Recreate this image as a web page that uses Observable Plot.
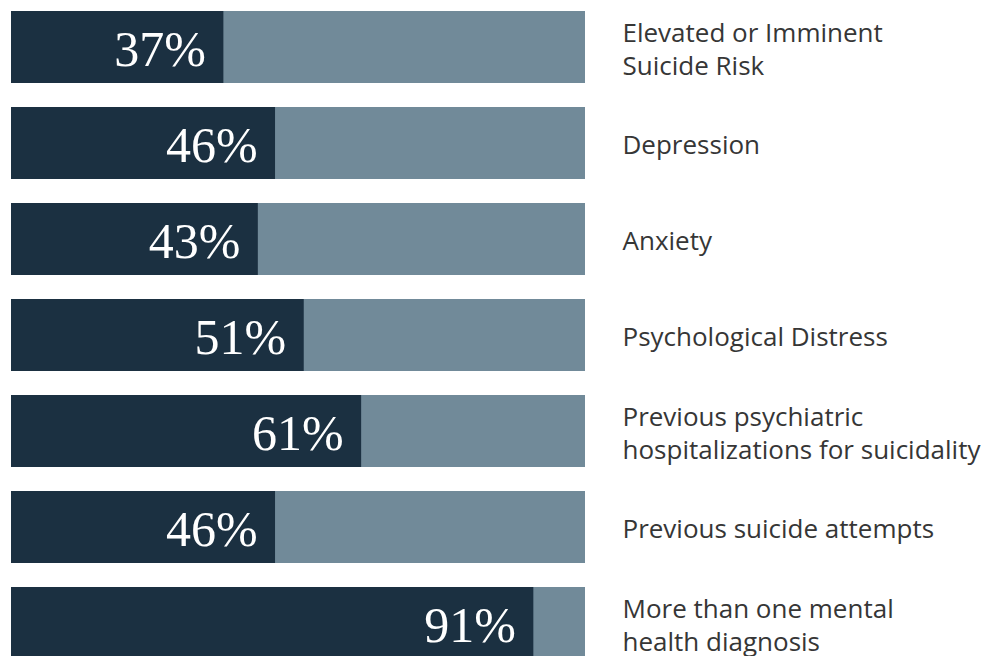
<!DOCTYPE html>
<html>
<head>
<meta charset="utf-8">
<script src="https://cdn.jsdelivr.net/npm/d3@7"></script>
<script src="https://cdn.jsdelivr.net/npm/@observablehq/plot@0.6"></script>
<style>
  html, body { margin: 0; padding: 0; background: #fff; overflow: hidden; }
  #chart svg { display: block; }
</style>
</head>
<body>
<div id="chart"></div>
<script>
const categories = [
  "Elevated or Imminent\nSuicide Risk",
  "Depression",
  "Anxiety",
  "Psychological Distress",
  "Previous psychiatric\nhospitalizations for suicidality",
  "Previous suicide attempts",
  "More than one mental\nhealth diagnosis"
];
const values = [37, 46, 43, 51, 61, 46, 91];
const totals = [100, 100, 100, 100, 100, 100, 100];

const data = categories.map((c, i) => ({category: c, value: values[i], total: totals[i]}));

const chart = Plot.plot({
  width: 990,
  height: 656,
  margin: 0,
  style: {background: "#fff", overflow: "hidden"},
  x: {domain: [0, 100], range: [11, 585], axis: null},
  y: {type: "band", domain: categories, range: [11, 659], paddingInner: 0.25, paddingOuter: 0, align: 0, axis: null},
  marks: [
    Plot.barX(data, {x1: 0, x2: "total", y: "category", fill: "#718a99"}),
    Plot.barX(data, {x1: 0, x2: "value", y: "category", fill: "#1b3041"}),
    Plot.text(data, {
      x: "value", y: "category", text: d => d.value + "%",
      textAnchor: "end", dx: -18, dy: 2, fill: "#ffffff",
      fontFamily: "Liberation Serif, serif", fontSize: 50
    }),
    Plot.text(data, {
      x: "total", y: "category", text: "category",
      textAnchor: "start", dx: 37, fill: "#363636",
      lineHeight: 1.27,
      fontFamily: "Open Sans, sans-serif", fontSize: 26
    })
  ]
});
document.getElementById("chart").appendChild(chart);
</script>
</body>
</html>
